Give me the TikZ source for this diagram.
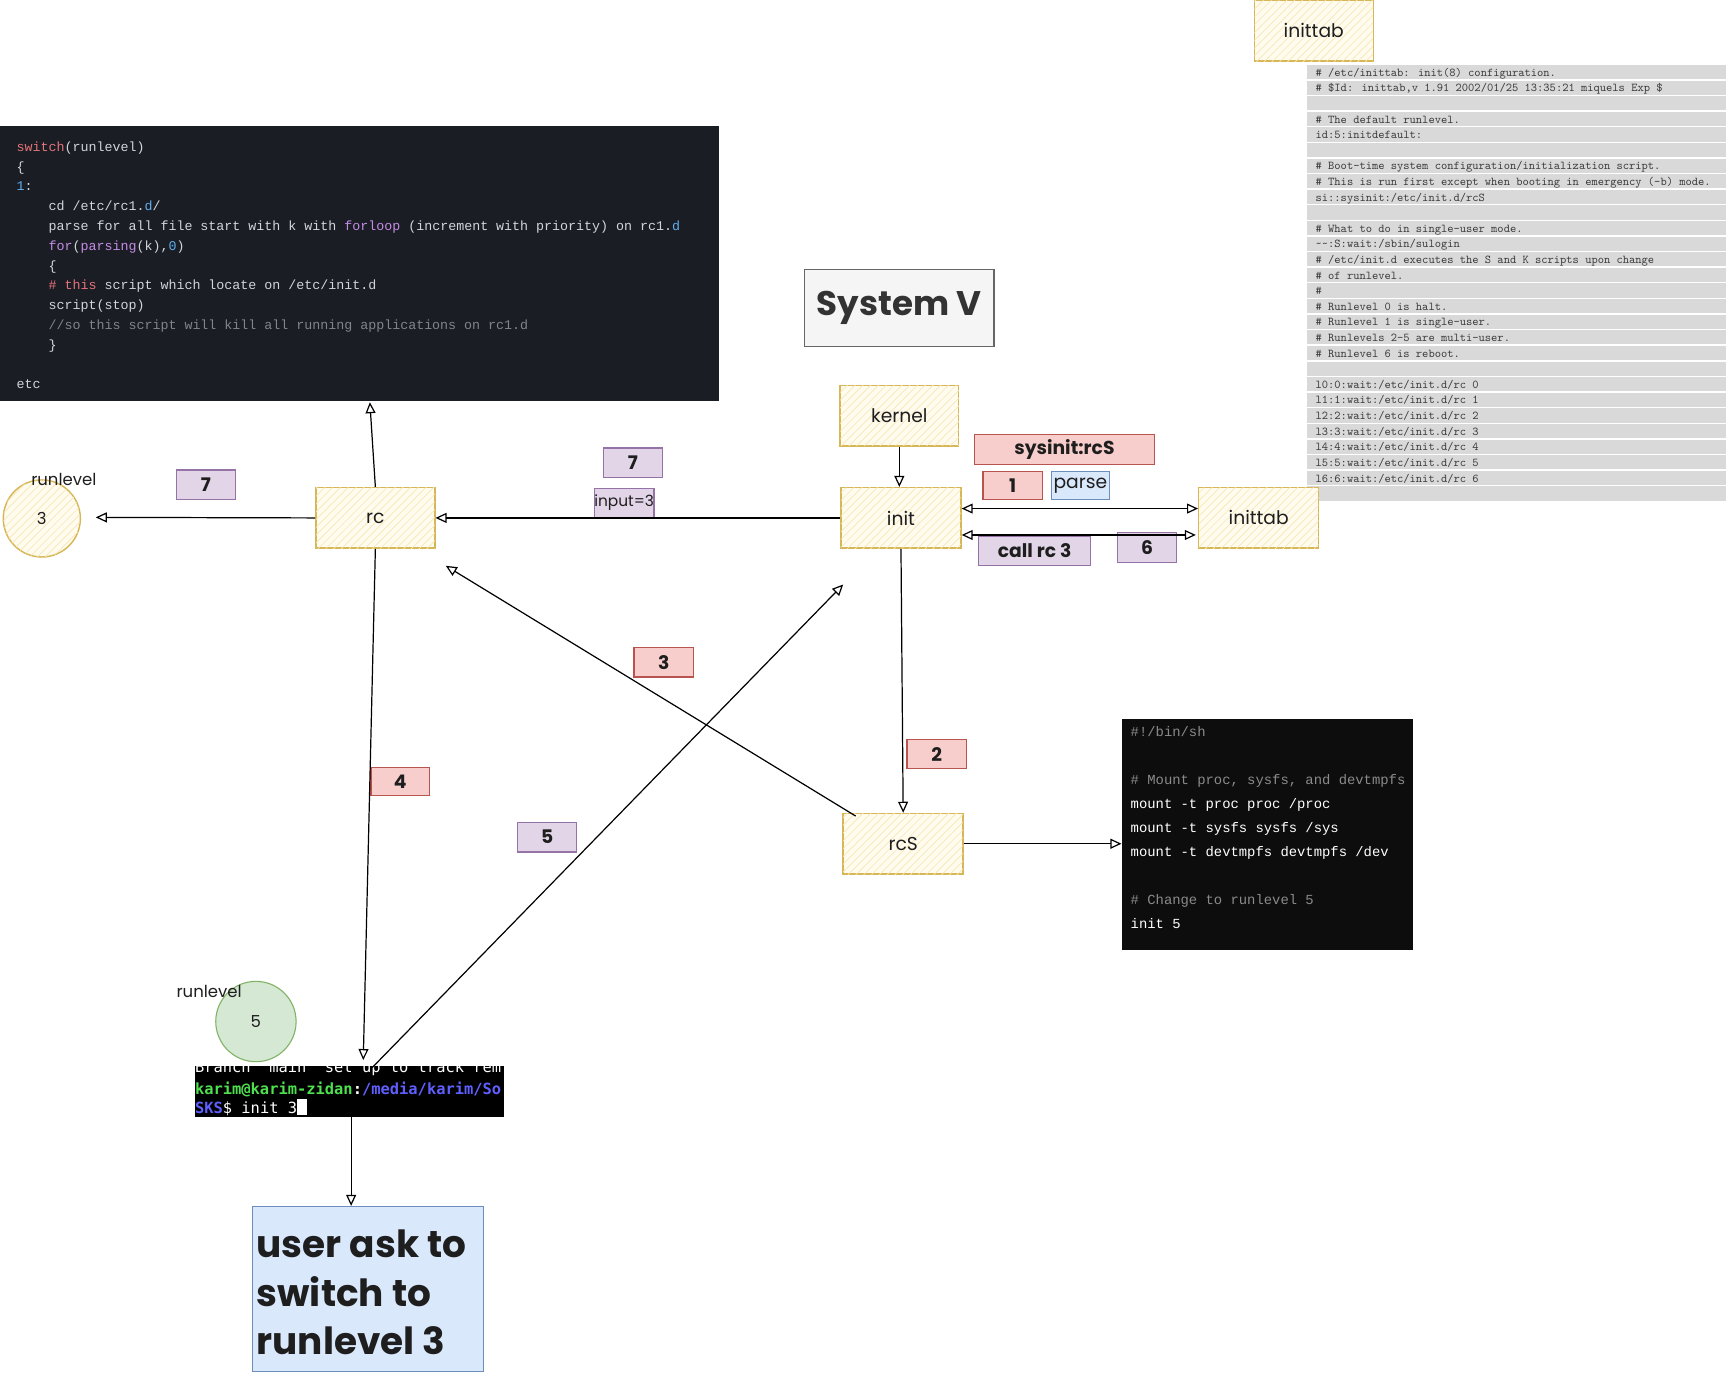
\documentclass[tikz,border=0pt]{standalone}
\usepackage{fontspec}
\setmainfont{Poppins}
\newfontfamily\codefont{Liberation Mono}
\newfontfamily\termfont{DejaVu Sans Mono}
\usetikzlibrary{arrows.meta,patterns.meta,calc}
\definecolor{ystroke}{HTML}{D6B656}
\definecolor{yfill}{HTML}{FFFBEE}
\definecolor{yhatch}{HTML}{F6E7B4}
\definecolor{redfill}{HTML}{F8CECC}
\definecolor{redstroke}{HTML}{B85450}
\definecolor{purfill}{HTML}{E1D5E7}
\definecolor{purstroke}{HTML}{9673A6}
\definecolor{bluefill}{HTML}{DAE8FC}
\definecolor{bluestroke}{HTML}{6C8EBF}
\definecolor{grnfill}{HTML}{D5E8D4}
\definecolor{grnstroke}{HTML}{82B366}
\definecolor{handtext}{HTML}{1E1E1E}
\definecolor{codebg}{HTML}{1A1D23}
\definecolor{codefg}{HTML}{D2D5DB}
\definecolor{csalmon}{HTML}{E5737B}
\definecolor{cblue}{HTML}{61AFEF}
\definecolor{cpurple}{HTML}{C48CE6}
\definecolor{cgrey}{HTML}{7F848E}
\definecolor{scriptbg}{HTML}{0D0D0D}
\definecolor{scriptgrey}{HTML}{8A8A8A}
\definecolor{rowgray}{HTML}{D9D9D9}
\definecolor{ittext}{HTML}{3A3A3A}
\definecolor{tgreen}{HTML}{4EE04E}
\definecolor{tblue}{HTML}{5F5FFF}
\definecolor{sysvfill}{HTML}{F5F5F5}
\definecolor{sysvstroke}{HTML}{666666}
\definecolor{sysvtext}{HTML}{333333}
\newcommand\itline[2]{\node[ittxt] at (1195,{59+#1*14.18+10.2}) {#2};}
\newcommand\cdline[3]{\node[cdtxt] at (#1,{137.5+#2*17.97}) {#3};}
\newcommand\scline[2]{\node[sctxt] at (1027,{669.5+#1*21.75}) {#2};}
\begin{document}
\begin{tikzpicture}[x=1pt,y=-1pt,
  hand/.style={font=\fontsize{17}{20}\selectfont, text=handtext},
  ybox/.style={draw=ystroke, line width=1.3pt, fill=yfill,
    postaction={pattern={Lines[angle=45,distance=5pt,line width=0.6pt]}, pattern color=yhatch},
    minimum width=108pt, minimum height=55pt, inner sep=0pt, hand},
  lbl/.style={line width=1pt, minimum width=54pt, minimum height=27pt, inner sep=0pt,
    font=\fontsize{17}{20}\selectfont\bfseries, text=handtext},
  redl/.style={lbl, draw=redstroke, fill=redfill},
  purl/.style={lbl, draw=purstroke, fill=purfill},
  bluel/.style={lbl, draw=bluestroke, fill=bluefill},
  rltext/.style={font=\fontsize{15}{18}\selectfont, text=handtext, inner sep=0pt},
  arr/.style={draw=black, line width=1.1pt, -{Triangle[open,length=10pt,width=9pt]}},
  arrb/.style={draw=black, line width=1.1pt, {Triangle[open,length=10pt,width=9pt]}-{Triangle[open,length=10pt,width=9pt]}},
  cdtxt/.style={anchor=base west, inner sep=0pt, font=\codefont\fontsize{12.1}{14}\selectfont, text=codefg},
  sctxt/.style={anchor=base west, inner sep=0pt, font=\codefont\fontsize{12.6}{14}\selectfont, text=white},
  ittxt/.style={anchor=base west, inner sep=0pt, font=\ttfamily\fontsize{10.85}{12}\selectfont, text=ittext},
  tmtxt/.style={anchor=base west, inner sep=0pt, font=\termfont\fontsize{14}{16}\selectfont}
]
\useasboundingbox (0,0) rectangle (1568,1247);

% ---------- code panel ----------
\node[fill=codebg, minimum width=653pt, minimum height=250pt, anchor=north west, inner sep=0pt] (code) at (0,114) {};
\cdline{15}{0}{\textcolor{csalmon}{switch}(runlevel)}
\cdline{15}{1}{\{}
\cdline{15}{2}{\textcolor{cblue}{1}:}
\cdline{44}{3}{cd /etc/rc1.\textcolor{cblue}{d}/}
\cdline{44}{4}{parse for all file start with k with \textcolor{cpurple}{forloop} (increment with priority) on rc1.\textcolor{cblue}{d}}
\cdline{44}{5}{\textcolor{cpurple}{for}(\textcolor{cpurple}{parsing}(k),\textcolor{cblue}{0})}
\cdline{44}{6}{\{}
\cdline{44}{7}{\textcolor{csalmon}{\# this} script which locate on /etc/init.d}
\cdline{44}{8}{script(stop)}
\cdline{44}{9}{\textcolor{cgrey}{//so this script will kill all running applications on rc1.d}}
\cdline{44}{10}{\}}
\cdline{15}{12}{etc}

% ---------- inittab file panel ----------
\foreach \i in {0,...,27} {
  \fill[rowgray] (1187,{59+\i*14.18}) rectangle (1568,{59+\i*14.18+12.9});
}
\itline{0}{\# /etc/inittab: init(8) configuration.}
\itline{1}{\# \$Id: inittab,v 1.91 2002/01/25 13:35:21 miquels Exp \$}
\itline{3}{\# The default runlevel.}
\itline{4}{id:5:initdefault:}
\itline{6}{\# Boot-time system configuration/initialization script.}
\itline{7}{\# This is run first except when booting in emergency (-b) mode.}
\itline{8}{si::sysinit:/etc/init.d/rcS}
\itline{10}{\# What to do in single-user mode.}
\itline{11}{\textasciitilde\textasciitilde:S:wait:/sbin/sulogin}
\itline{12}{\# /etc/init.d executes the S and K scripts upon change}
\itline{13}{\# of runlevel.}
\itline{14}{\#}
\itline{15}{\# Runlevel 0 is halt.}
\itline{16}{\# Runlevel 1 is single-user.}
\itline{17}{\# Runlevels 2-5 are multi-user.}
\itline{18}{\# Runlevel 6 is reboot.}
\itline{20}{l0:0:wait:/etc/init.d/rc 0}
\itline{21}{l1:1:wait:/etc/init.d/rc 1}
\itline{22}{l2:2:wait:/etc/init.d/rc 2}
\itline{23}{l3:3:wait:/etc/init.d/rc 3}
\itline{24}{l4:4:wait:/etc/init.d/rc 4}
\itline{25}{l5:5:wait:/etc/init.d/rc 5}
\itline{26}{l6:6:wait:/etc/init.d/rc 6}

% ---------- rcS script panel ----------
\node[fill=scriptbg, minimum width=265pt, minimum height=210pt, inner sep=0pt] (script) at (1151.5,758) {};
\scline{0}{\textcolor{scriptgrey}{\#!/bin/sh}}
\scline{2}{\textcolor{scriptgrey}{\# Mount proc, sysfs, and devtmpfs}}
\scline{3}{mount -t proc proc /proc}
\scline{4}{mount -t sysfs sysfs /sys}
\scline{5}{mount -t devtmpfs devtmpfs /dev}
\scline{7}{\textcolor{scriptgrey}{\# Change to runlevel 5}}
\scline{8}{init 5}

% ---------- terminal ----------
\node[fill=black, minimum width=281pt, minimum height=47pt, inner sep=0pt] (term) at (317.5,991.5) {};
\begin{scope}
\clip (177,968) rectangle (458,1015);
\node[tmtxt, text=white] at (177,974) {Branch 'main' set up to track rem};
\node[tmtxt] at (177,994.5) {\bfseries\textcolor{tgreen}{karim@karim-zidan}\textcolor{white}{:}\textcolor{tblue}{/media/karim/So}};
\node[tmtxt] at (177,1011.5) {\textcolor{tblue}{\bfseries SKS}\textcolor{white}{\$ init 3}};
\fill[white] (270,998) rectangle (279,1013);
\end{scope}

% ---------- System V ----------
\node[draw=sysvstroke, fill=sysvfill, line width=1pt, minimum width=172pt, minimum height=70pt, inner sep=0pt,
  font=\fontsize{31}{36}\selectfont\bfseries, text=sysvtext] (sysv) at (817,280) {System V};

% ---------- main boxes ----------
\node[ybox] (inittab1) at (1193.5,28) {inittab};
\node[ybox] (kernel) at (817,377.5) {kernel};
\node[ybox, minimum width=109pt] (init) at (818.5,470.5) {init};
\node[ybox, minimum width=109pt] (rcS) at (820.5,766.5) {rcS};
\node[ybox] (rc) at (341,470.5) {rc};
\node[ybox, minimum width=109pt] (inittab2) at (1143.5,470.5) {inittab};

% ---------- runlevel circles ----------
\node[circle, draw=ystroke, line width=1.3pt, fill=yfill,
  postaction={pattern={Lines[angle=45,distance=5pt,line width=0.6pt]}, pattern color=yhatch},
  minimum size=70pt, inner sep=0pt, rltext] (rl3) at (38,471) {3};
\node[rltext] (rl3lab) at (58,436) {runlevel};
\node[circle, draw=grnstroke, line width=1pt, fill=grnfill, minimum size=73pt, inner sep=0pt, rltext] (rl5) at (232.5,928) {5};
\node[rltext] (rl5lab) at (190,901) {runlevel};

% ---------- user box ----------
\node[draw=bluestroke, fill=bluefill, line width=1pt, minimum width=210pt, minimum height=150pt,
  inner sep=0pt] (usr) at (334,1171) {};
\node[anchor=west, align=left, inner sep=0pt, text=handtext,
  font=\fontsize{34}{44}\selectfont\bfseries] (usrtxt) at (233,1174) {user ask to\\switch to\\runlevel 3};

% ---------- labels ----------
\node[redl, minimum width=164pt] (sysinit) at (967,408.5) {sysinit:rcS};
\node[redl, minimum height=26pt] (l1) at (920,441) {1};
\node[bluel, minimum width=53pt, minimum height=26pt, font=\fontsize{17}{20}\selectfont] (parse) at (981.5,441) {parse};
\node[purl, minimum width=102pt] (callrc) at (940,500.5) {call rc 3};
\node[purl] (l6) at (1042,497.5) {6};
\node[purl] (l7a) at (575,420.5) {7};
\node[purl, minimum height=26pt, font=\fontsize{14}{16}\selectfont] (inp) at (567,457) {input=3};
\node[purl] (l7b) at (187,440.5) {7};
\node[redl] (l3) at (603,601.5) {3};
\node[redl, minimum height=26pt] (l2) at (851,685) {2};
\node[redl, minimum width=53pt, minimum height=26pt] (l4) at (363.5,710) {4};
\node[purl] (l5) at (497,760.5) {5};

% ---------- free ends ----------
\coordinate (rl3ar) at (87,470);
\coordinate (a3end) at (405,514);
\coordinate (a4end) at (330,963);
\coordinate (a5start) at (338,970);
\coordinate (a5end) at (766,531);
\coordinate (t6) at (319,1015);

% ---------- connectors ----------
\draw[arr] (kernel.south) -- (init.north -| kernel.south);
\draw[arrb] ($(init.east)+(0,-8.5)$) -- ($(inittab2.west)+(0,-8.5)$);
\draw[arrb] ($(init.east)+(0,15.5)$) -- ($(inittab2.west)+(-2,15.5)$);
\draw[arr] (init.west) -- (rc.east);
\draw[arr] (rc.west) -- (rl3ar);
\draw[arr] (rc.north) -- ($(rc.north |- code.south)+(-5,1)$);
\draw[arr] (init.south) -- (rcS.north);
\draw[arr] (rcS.east) -- (rcS.east -| script.west);
\draw[arr] ($(rcS.north west)+(12,3)$) -- (a3end);
\draw[arr] (rc.south) -- (a4end);
\draw[arr] (a5start) -- (a5end);
\draw[arr] (t6) -- (t6 |- usr.north);
\end{tikzpicture}
\end{document}
